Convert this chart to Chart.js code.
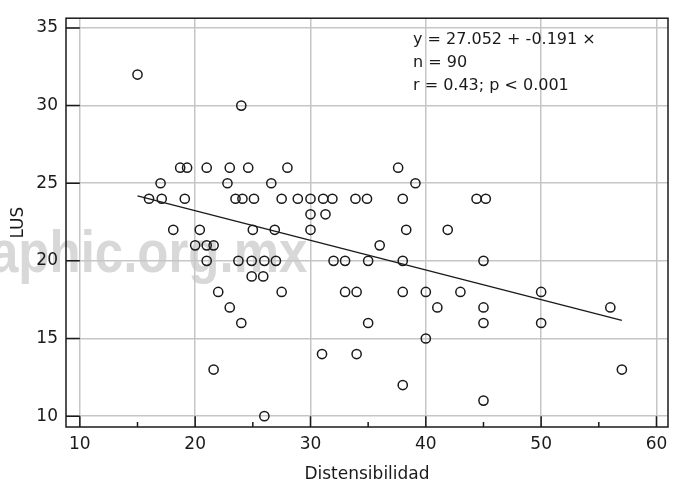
<!DOCTYPE html>
<html lang="es">
<head>
    <meta charset="UTF-8">
    <title>LUS vs Distensibilidad</title>
    <script src="https://cdn.jsdelivr.net/npm/chart.js"></script>
    <style>
        html, body {
            margin: 0;
            padding: 0;
            background: #fff;
        }

        .chart-box {
            width: 678px;
            height: 483px;
        }
    </style>
</head>
<body>

    <div class="chart-box"><canvas id="lusChart"></canvas></div>

    <script>
        // Distensibilidad (x) and LUS (y), one entry per patient
        const distensibilidad = [
            15, 24,
            18.7, 19.3, 21, 23, 24.6, 28, 37.6,
            17, 22.8, 26.6, 39.1,
            16, 17.1, 19.1, 23.5, 24.1, 25.1, 27.5, 28.9, 30, 31.1, 31.9, 33.9, 34.9, 38, 44.4, 45.2,
            30, 31.3,
            18.1, 20.4, 25, 26.9, 30, 38.3, 41.9,
            20, 21, 21.6, 36,
            21, 23.75, 24.9, 26, 27, 32, 33, 35, 38, 45,
            24.9, 25.9,
            22, 27.5, 33, 34, 38, 40, 43, 50,
            23, 41, 45, 56,
            24, 35, 45, 50,
            40,
            31, 34,
            21.6, 57,
            38,
            45,
            26
        ];
        const lus = [
            32, 30,
            26, 26, 26, 26, 26, 26, 26,
            25, 25, 25, 25,
            24, 24, 24, 24, 24, 24, 24, 24, 24, 24, 24, 24, 24, 24, 24, 24,
            23, 23,
            22, 22, 22, 22, 22, 22, 22,
            21, 21, 21, 21,
            20, 20, 20, 20, 20, 20, 20, 20, 20, 20,
            19, 19,
            18, 18, 18, 18, 18, 18, 18, 18,
            17, 17, 17, 17,
            16, 16, 16, 16,
            15,
            14, 14,
            13, 13,
            12,
            11,
            10
        ];

        const xTicks = [10, 20, 30, 40, 50, 60];
        const xMinorTicks = [15, 25, 35, 45, 55];
        const yTicks = [10, 15, 20, 25, 30, 35];

        // regression fit as reported
        const intercept = 27.052;
        const slope = -0.191;
        const nPatients = 90;
        const rValue = 0.43;
        const statLines = [
            `y = ${intercept} + ${slope} ×`,
            `n = ${nPatients}`,
            `r = ${rValue}; p < 0.001`
        ];

        const FONT = "'DejaVu Sans', sans-serif";
        const INK = '#1a1a1a';

        const points = distensibilidad.map((d, i) => ({ x: d, y: lus[i] }));
        const xFrom = Math.min(...distensibilidad);
        const xTo = Math.max(...distensibilidad);
        const fitLine = [
            { x: xFrom, y: intercept + slope * xFrom },
            { x: xTo, y: intercept + slope * xTo }
        ];

        // frame, inward ticks, stats box and the faint site stamp
        const framePlugin = {
            id: 'frame',
            beforeDraw(chart) {
                const { ctx } = chart;
                ctx.save();
                ctx.translate(-10, 272);
                ctx.scale(0.85, 1);
                ctx.font = "bold 60px 'Liberation Sans', Arial, sans-serif";
                ctx.fillStyle = '#d8d8d8';
                ctx.textBaseline = 'alphabetic';
                ctx.fillText('aphic.org.mx', 0, 0);
                ctx.restore();
            },
            afterDraw(chart) {
                const { ctx, chartArea: a, scales: { x, y } } = chart;
                const xStart = x.getPixelForValue(xTicks[0]);
                const yStart = y.getPixelForValue(yTicks[0]);
                ctx.save();
                ctx.strokeStyle = INK;
                ctx.lineWidth = 1.5;
                ctx.beginPath();
                yTicks.forEach(v => {
                    const py = y.getPixelForValue(v);
                    ctx.moveTo(a.left, py);
                    ctx.lineTo(xStart, py);
                });
                xTicks.forEach(v => {
                    const px = x.getPixelForValue(v);
                    ctx.moveTo(px, a.bottom);
                    ctx.lineTo(px, yStart);
                });
                xMinorTicks.forEach(v => {
                    const px = x.getPixelForValue(v);
                    ctx.moveTo(px, a.bottom);
                    ctx.lineTo(px, a.bottom - 5);
                });
                ctx.stroke();
                ctx.strokeRect(a.left, a.top, a.right - a.left, a.bottom - a.top);

                ctx.fillStyle = INK;
                ctx.font = `16px ${FONT}`;
                ctx.textAlign = 'left';
                ctx.textBaseline = 'alphabetic';
                statLines.forEach((t, i) => {
                    ctx.fillText(t, a.left + 347, a.top + 26 + i * 23);
                });
                ctx.restore();
            }
        };

        new Chart(document.getElementById('lusChart'), {
            data: {
                datasets: [
                    {
                        type: 'scatter',
                        data: points,
                        pointStyle: 'circle',
                        pointRadius: 4.6,
                        pointHoverRadius: 4.6,
                        borderWidth: 1.5,
                        borderColor: INK,
                        backgroundColor: 'rgba(0,0,0,0)'
                    },
                    {
                        type: 'line',
                        data: fitLine,
                        borderColor: INK,
                        borderWidth: 1.4,
                        pointRadius: 0,
                        fill: false
                    }
                ]
            },
            options: {
                responsive: true,
                maintainAspectRatio: false,
                animation: false,
                events: [],
                layout: { padding: { top: 12, right: 10, left: 0, bottom: 0 } },
                plugins: {
                    legend: { display: false },
                    tooltip: { enabled: false }
                },
                scales: {
                    x: {
                        type: 'linear',
                        min: 8.8,
                        max: 61,
                        afterBuildTicks: s => { s.ticks = xTicks.map(v => ({ value: v })); },
                        afterFit: s => { s.height = 56; },
                        grid: { color: '#c6c6c6', lineWidth: 1.5, drawTicks: false },
                        border: { display: false },
                        ticks: {
                            padding: 7,
                            color: INK,
                            font: { family: FONT, size: 17 }
                        },
                        title: {
                            display: true,
                            text: 'Distensibilidad',
                            color: INK,
                            font: { family: FONT, size: 17, lineHeight: 1 },
                            padding: { top: 0, bottom: 0 }
                        }
                    },
                    y: {
                        type: 'linear',
                        min: 9.3,
                        max: 35.63,
                        afterBuildTicks: s => { s.ticks = yTicks.map(v => ({ value: v })); },
                        afterFit: s => { s.width = 66; },
                        grid: { color: '#c6c6c6', lineWidth: 1.5, drawTicks: false },
                        border: { display: false },
                        ticks: {
                            padding: 8,
                            color: INK,
                            font: { family: FONT, size: 17 }
                        },
                        title: {
                            display: true,
                            text: 'LUS',
                            color: INK,
                            font: { family: FONT, size: 17, lineHeight: 1 },
                            padding: { top: 10.5, bottom: 0 }
                        }
                    }
                }
            },
            plugins: [framePlugin]
        });
    </script>

</body>
</html>
